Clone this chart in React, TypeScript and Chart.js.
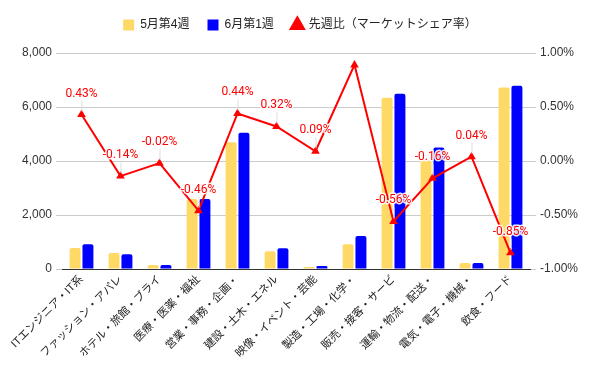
import React, { useEffect, useRef } from "react";
import { Chart, registerables } from "chart.js";

Chart.register(...registerables);

const categories = [
  "ITエンジニア・IT系",
  "ファッション・アパレ",
  "ホテル・旅館・ブライ",
  "医療・医薬・福祉",
  "営業・事務・企画・",
  "建設・土木・エネル",
  "映像・イベント・芸能",
  "製造・工場・化学・",
  "販売・接客・サービ",
  "運輸・物流・配送・",
  "電気・電子・機械・",
  "飲食・フード",
];
const week4May = [775, 590, 150, 2590, 4690, 660, 70, 920, 6340, 4020, 220, 6720];
const week1Jun = [920, 550, 150, 2590, 5050, 770, 110, 1220, 6490, 4500, 220, 6790];
const shareChange = [0.43, -0.14, -0.02, -0.46, 0.44, 0.32, 0.09, 0.89, -0.56, -0.16, 0.04, -0.85];
const seriesNames = ["5月第4週", "6月第1週", "先週比（マーケットシェア率）"];
const leftTicks = [0, 2000, 4000, 6000, 8000];
const rightTicks = [-1, -0.5, 0, 0.5, 1];

const FONT = "Arial, 'Liberation Sans', 'Noto Sans CJK JP', sans-serif";

const legendMargin = {
  id: "legendMargin",
  beforeInit(chart: any) {
    const orig = chart.legend.fit;
    chart.legend.fit = function () {
      orig.call(this);
      this.height += 12;
    };
  },
};

const labelPlugin = {
  id: "lineLabels",
  afterDatasetsDraw(chart: any) {
    const meta = chart.getDatasetMeta(2);
    const ctx = chart.ctx;
    const area = chart.chartArea;
    ctx.save();
    ctx.font = "12px Roboto, Arial, sans-serif";
    ctx.textAlign = "center";
    ctx.textBaseline = "middle";
    meta.data.forEach((pt: any, i: number) => {
      const v = shareChange[i];
      const ly = pt.y - 21;
      if (ly - 6 < area.top) return;
      ctx.strokeStyle = "#dddddd";
      ctx.lineWidth = 1;
      ctx.beginPath();
      ctx.moveTo(pt.x + 0.5, ly + 7);
      ctx.lineTo(pt.x + 0.5, pt.y - 3);
      ctx.stroke();
      const txt = v.toFixed(2) + "%";
      ctx.lineWidth = 3;
      ctx.strokeStyle = "rgba(255,255,255,0.9)";
      ctx.lineJoin = "round";
      ctx.strokeText(txt, pt.x, ly);
      ctx.fillStyle = "#ff0000";
      ctx.fillText(txt, pt.x, ly);
    });
    ctx.restore();
  },
};

export default function App() {
  const ref = useRef<HTMLCanvasElement>(null);
  useEffect(() => {
    document.body.style.margin = "0";
    const chart = new Chart(ref.current!, {
      type: "bar",
      data: {
        labels: categories,
        datasets: [
          {
            type: "bar",
            label: seriesNames[0],
            data: week4May,
            backgroundColor: "#ffd966",
            borderRadius: 2,
            pointStyle: "rect",
            yAxisID: "y",
            order: 2,
            categoryPercentage: 0.66,
            barPercentage: 0.85,
          } as any,
          {
            type: "bar",
            label: seriesNames[1],
            data: week1Jun,
            backgroundColor: "#0000ff",
            borderRadius: 2,
            pointStyle: "rect",
            yAxisID: "y",
            order: 2,
            categoryPercentage: 0.66,
            barPercentage: 0.85,
          } as any,
          {
            type: "line",
            label: seriesNames[2],
            data: shareChange,
            borderColor: "#ff0000",
            backgroundColor: "#ff0000",
            borderWidth: 2,
            pointStyle: "triangle",
            pointRadius: 3,
            yAxisID: "y1",
            order: 0,
          } as any,
        ],
      },
      options: {
        animation: false,
        responsive: false,
        layout: { padding: { top: 1, bottom: 0, left: 0, right: 0 } },
        plugins: {
          legend: {
            position: "top",
            labels: {
              usePointStyle: true,
              boxWidth: 11,
              boxHeight: 11,
              padding: 18,
              color: "#222",
              font: { family: FONT, size: 12 },
              sort: (a: any, b: any) => a.datasetIndex - b.datasetIndex,
            },
          },
          tooltip: { enabled: false },
        },
        scales: {
          x: {
            grid: { display: false, drawTicks: false },
            border: { display: true, color: "#333333", width: 1 },
            ticks: {
              autoSkip: false,
              maxRotation: 45,
              minRotation: 45,
              color: "#222",
              padding: 4,
              font: { family: FONT, size: 11 },
            },
            afterFit(scale: any) {
              scale.height = 102;
            },
          },
          y: {
            position: "left",
            min: 0,
            max: 8000,
            afterBuildTicks(scale: any) {
              scale.ticks = leftTicks.map((v) => ({ value: v }));
            },
            grid: { color: "#cccccc", tickLength: 6, tickColor: "#cccccc" },
            border: { display: false },
            ticks: {
              color: "#333",
              padding: 4,
              font: { family: FONT, size: 12 },
              callback: (v: any) => Number(v).toLocaleString("en-US"),
            },
            afterFit(scale: any) {
              scale.width = 62;
            },
          },
          y1: {
            position: "right",
            min: -1,
            max: 1,
            afterBuildTicks(scale: any) {
              scale.ticks = rightTicks.map((v) => ({ value: v }));
            },
            grid: { drawOnChartArea: false, tickLength: 6, tickColor: "#cccccc" },
            border: { display: false },
            ticks: {
              color: "#333",
              padding: 4,
              font: { family: FONT, size: 12 },
              callback: (v: any) => Number(v).toFixed(2) + "%",
            },
            afterFit(scale: any) {
              scale.width = 70;
            },
          },
        },
      },
      plugins: [legendMargin, labelPlugin],
    });
    return () => chart.destroy();
  }, []);
  return (
    <div style={{ position: "absolute", left: 0, top: 0, width: 600, height: 371, background: "#fff" }}>
      <canvas ref={ref} width={600} height={371} />
    </div>
  );
}
